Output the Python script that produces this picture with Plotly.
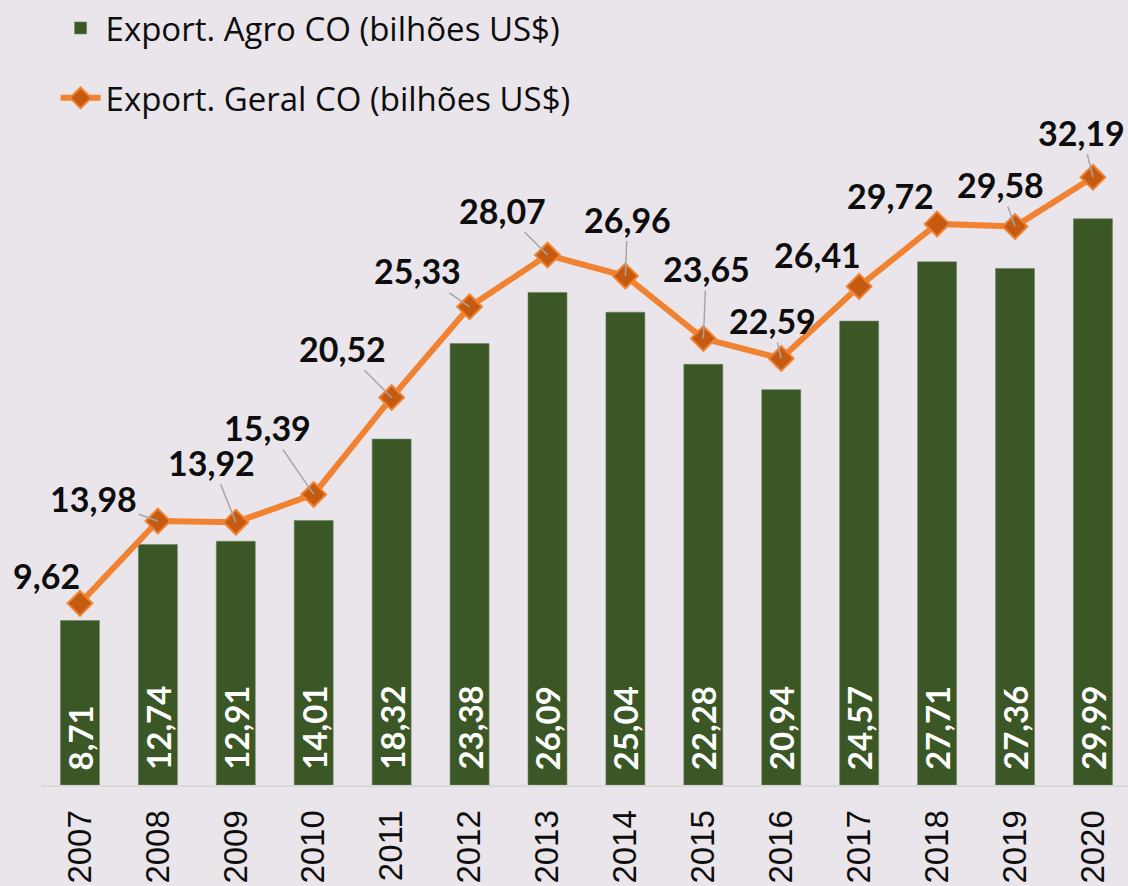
import plotly.graph_objects as go

years = ["2007", "2008", "2009", "2010", "2011", "2012", "2013",
         "2014", "2015", "2016", "2017", "2018", "2019", "2020"]
agro = [8.71, 12.74, 12.91, 14.01, 18.32, 23.38, 26.09,
        25.04, 22.28, 20.94, 24.57, 27.71, 27.36, 29.99]
geral = [9.62, 13.98, 13.92, 15.39, 20.52, 25.33, 28.07,
         26.96, 23.65, 22.59, 26.41, 29.72, 29.58, 32.19]

name_agro = "Export. Agro CO (bilhões US$)"
name_geral = "Export. Geral CO (bilhões US$)"

# label layout (pixel offsets from the point) and whether a leader line is drawn
label_dx = [-33, -64, -24, -46, -49, -52, -45, 2, 3, -9, -42, -47, -15, -11]
label_dy = [-28, -23, -60, -67, -49, -36, -45, -57, -70, -38, -32, -28, -42, -45]
leader = [False, True, True, True, True, True, True, True, True, True, False, False, True, True]

BG = "#E9E5EA"
GREEN = "#3A5725"
ORANGE = "#F08232"
DARK_OR = "#C55A11"
LABEL_FONT = "Lato"


def fmt(v):
    return f"{v:.2f}".replace(".", ",")


fig = go.Figure()
fig.add_trace(go.Bar(
    x=years, y=agro, name=name_agro, width=0.5,
    marker=dict(color=GREEN, line=dict(color="#6E7F63", width=0.6)),
    legendgroup="a",
))
fig.add_trace(go.Scatter(
    x=years, y=geral, name=name_geral, mode="lines+markers",
    line=dict(color=ORANGE, width=6),
    marker=dict(symbol="diamond", size=19, color=DARK_OR,
                line=dict(color=ORANGE, width=2)),
    legendgroup="b",
))

annotations = []
for i, v in enumerate(agro):
    annotations.append(dict(
        x=i, y=0, xref="x", yref="y", text=f"<b>{fmt(v)}</b>",
        showarrow=False, textangle=-90, yanchor="bottom", xanchor="center",
        yshift=13, font=dict(family=LABEL_FONT, size=33, color="white"),
    ))
for i, v in enumerate(geral):
    if leader[i]:
        annotations.append(dict(
            x=i, y=v, xref="x", yref="y", text=f"<b>{fmt(v)}</b>",
            showarrow=True, arrowhead=0, arrowwidth=1.5, arrowcolor="#A6A6A6",
            ax=label_dx[i], ay=label_dy[i], standoff=0,
            font=dict(family=LABEL_FONT, size=34, color="#0D0D0D"),
        ))
    else:
        annotations.append(dict(
            x=i, y=v, xref="x", yref="y", text=f"<b>{fmt(v)}</b>",
            showarrow=False, xshift=label_dx[i], yshift=-label_dy[i],
            font=dict(family=LABEL_FONT, size=34, color="#0D0D0D"),
        ))

fig.update_layout(
    width=1128, height=886,
    paper_bgcolor=BG, plot_bgcolor=BG,
    margin=dict(l=41, r=0, t=0, b=101, autoexpand=False),
    showlegend=True,
    legend=dict(
        x=0.0134, y=1.0, xref="paper", yref="paper",
        xanchor="left", yanchor="top",
        font=dict(family="Open Sans", size=33, color="#0D0D0D"),
        bgcolor="rgba(0,0,0,0)", traceorder="grouped", tracegroupgap=24,
        itemwidth=40,
    ),
    xaxis=dict(
        type="category", range=[-0.5, 13.45],
        showline=True, linecolor="#D9D9D9", linewidth=2,
        showgrid=False, zeroline=False,
        tickangle=-90, ticks="", ticklabelstandoff=10,
        tickfont=dict(family="Liberation Sans", size=33, color="#0D0D0D"),
    ),
    yaxis=dict(
        range=[0, 785 / 18.88], visible=False, showgrid=False, zeroline=False,
    ),
    annotations=annotations,
    bargap=0.5,
)

fig.write_html("out.html", config={"displayModeBar": False},
               post_script="document.body.style.margin='0';")
